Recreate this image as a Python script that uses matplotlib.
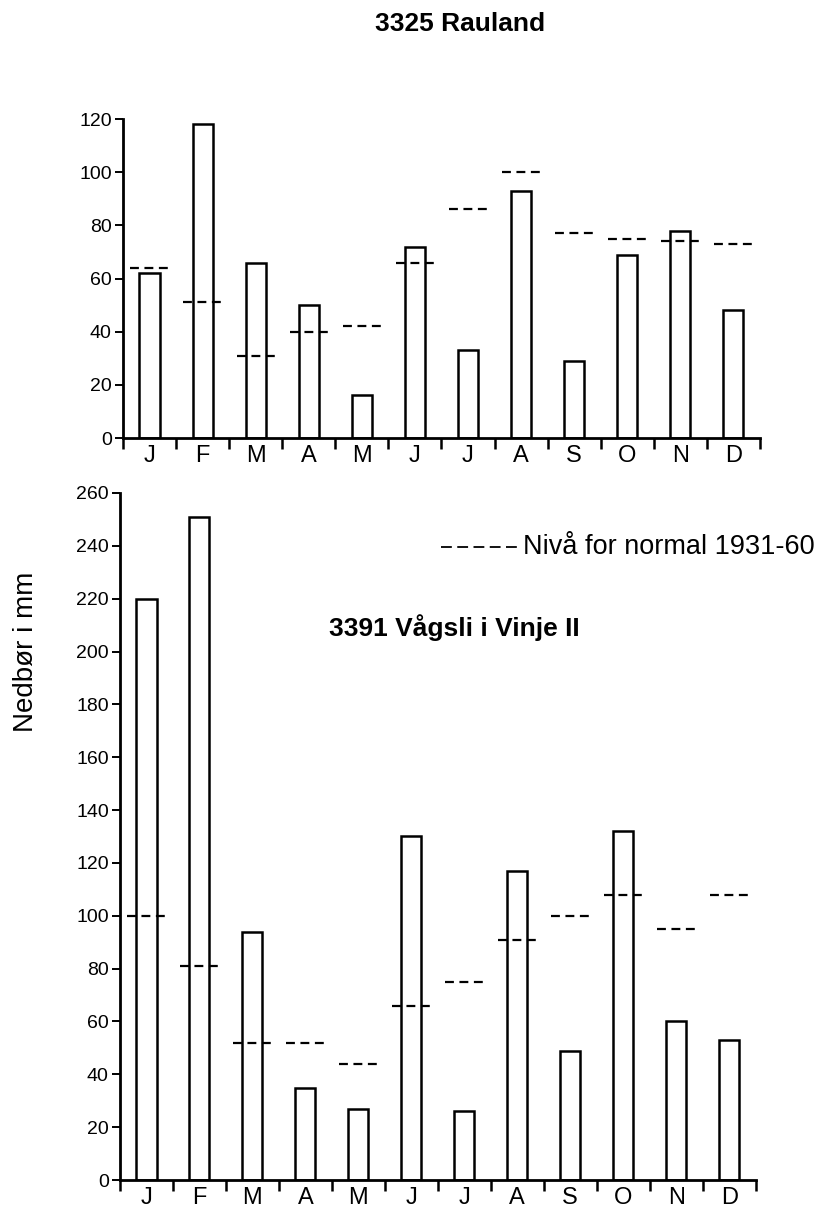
import matplotlib.pyplot as plt
import numpy as np

plt.rcParams['font.family'] = ['Liberation Sans', 'DejaVu Sans']

months = ['J', 'F', 'M', 'A', 'M', 'J', 'J', 'A', 'S', 'O', 'N', 'D']

# 3325 Rauland
rauland = [62, 118, 66, 50, 16, 72, 33, 93, 29, 69, 78, 48]
rauland_normal = [64, 51, 31, 40, 42, 66, 86, 100, 77, 75, 74, 73]

# 3391 Vågsli i Vinje II
vagsli = [220, 251, 94, 35, 27, 130, 26, 117, 49, 132, 60, 53]
vagsli_normal = [100, 81, 52, 52, 44, 66, 75, 91, 100, 108, 95, 108]


def draw(ax, values, normals, ymax, step):
    x = np.arange(len(values))
    ax.bar(x, values, width=0.38, color='white', edgecolor='black', linewidth=1.8, zorder=2)
    ax.hlines(normals, x - 0.36, x + 0.36, colors='black', linewidth=1.6,
              linestyles=(0, (4, 2.5)), zorder=3)
    ax.set_xlim(-0.5, len(values) - 0.5)
    ax.set_ylim(0, ymax)
    ax.set_yticks(np.arange(0, ymax + 1, step))
    ax.tick_params(axis='y', labelsize=14, length=6, width=1.4, direction='out', pad=2)
    ax.set_xticks(x)
    ax.set_xticklabels(months, fontsize=17)
    ax.tick_params(axis='x', which='major', length=0, pad=5)
    ax.set_xticks(np.arange(-0.5, len(values)), minor=True)
    ax.tick_params(axis='x', which='minor', length=8, width=1.8, direction='out')
    for s in ['top', 'right']:
        ax.spines[s].set_visible(False)
    ax.spines['left'].set_linewidth(2)
    ax.spines['bottom'].set_linewidth(2)


fig = plt.figure(figsize=(8.16, 12.16), dpi=100)

ax1 = fig.add_axes([0.1507, 0.6398, 0.7806, 0.2623])
draw(ax1, rauland, rauland_normal, 120, 20)

ax2 = fig.add_axes([0.147, 0.0296, 0.779, 0.565])
draw(ax2, vagsli, vagsli_normal, 260, 20)

fig.text(0.564, 0.980, '3325 Rauland', fontsize=19, fontweight='bold', ha='center', va='center')
fig.text(0.557, 0.4836, '3391 Vågsli i Vinje II', fontsize=19, fontweight='bold', ha='center', va='center')
fig.text(0.032, 0.464, 'Nedbør i mm', fontsize=20, rotation=90, ha='center', va='center')

# legend for normal level
fig.lines.append(plt.Line2D([0.540, 0.637], [0.5505, 0.5505], transform=fig.transFigure,
                            color='black', linewidth=1.3, linestyle=(0, (6, 3))))
fig.text(0.641, 0.5505, 'Nivå for normal 1931-60', fontsize=19.5, ha='left', va='center')

fig.savefig('out.png', dpi=100)
